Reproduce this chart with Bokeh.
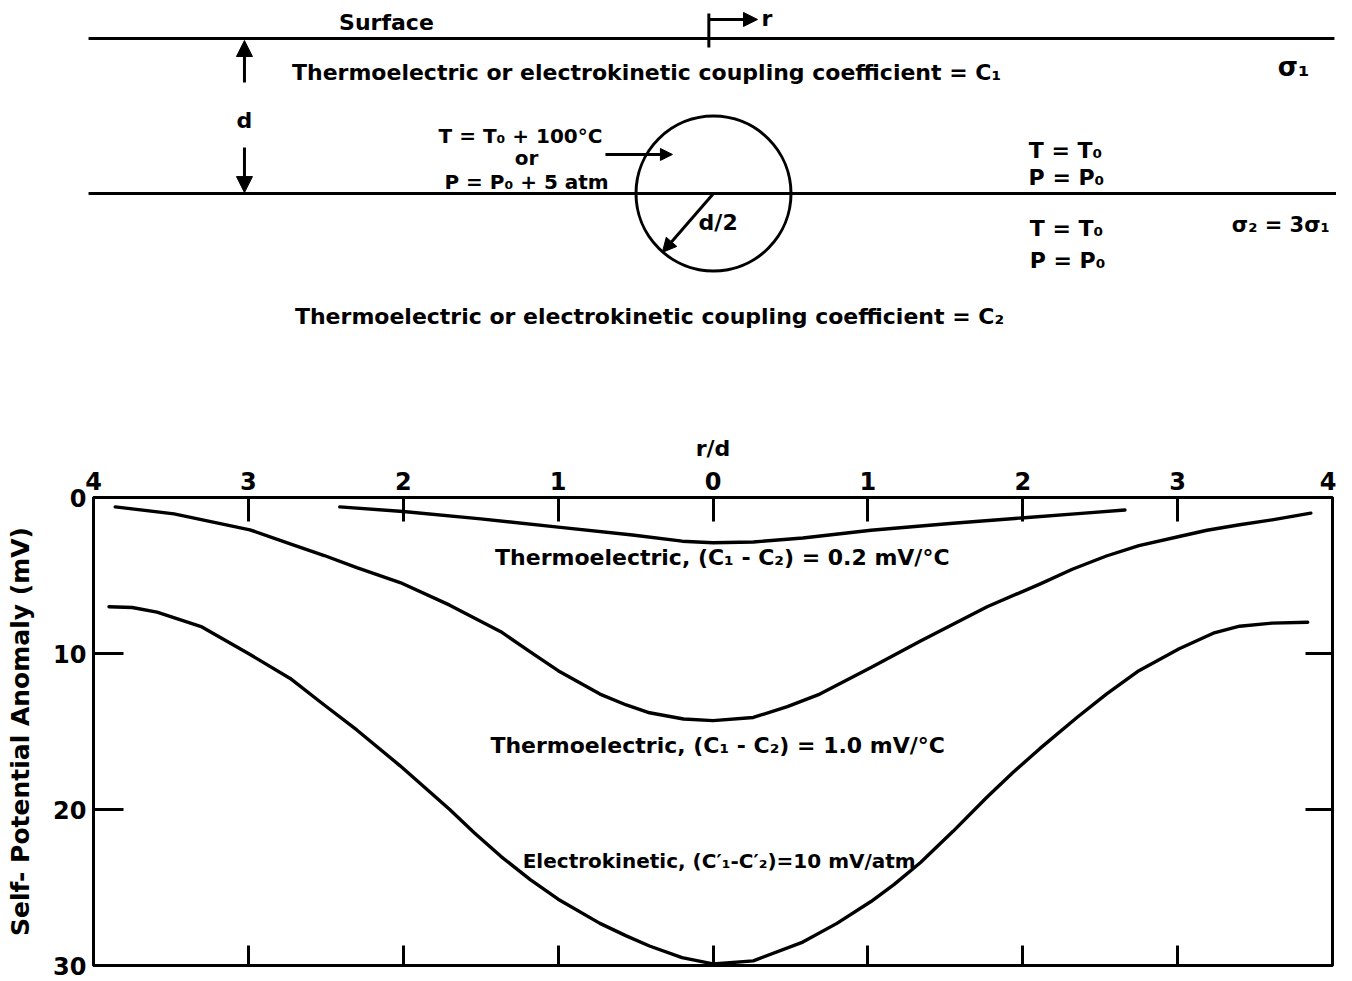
from bokeh.plotting import figure
from bokeh.models import Range1d, LinearAxis, FixedTicker, Label, Arrow, NormalHead
from bokeh.layouts import column
from bokeh.embed import file_html
from bokeh.resources import INLINE

# ---------------- data ----------------
# Thermoelectric, (C1 - C2) = 0.2 mV/degC
r_te02 = [-2.41, -2.0, -1.5, -1.0, -0.52, -0.2, 0.0, 0.26, 0.58, 1.02, 1.55, 2.01, 2.4, 2.66]
mv_te02 = [0.6, 0.9, 1.37, 1.9, 2.4, 2.8, 2.9, 2.85, 2.6, 2.1, 1.65, 1.3, 1.0, 0.8]

# Thermoelectric, (C1 - C2) = 1.0 mV/degC
r_te10 = [-3.86, -3.48, -2.99, -2.73, -2.51, -2.30, -2.02, -1.70, -1.37, -1.18, -1.0,
          -0.73, -0.56, -0.41, -0.19, 0.0, 0.26, 0.48, 0.69, 1.02, 1.34, 1.77, 2.11,
          2.32, 2.54, 2.75, 3.01, 3.19, 3.4, 3.61, 3.86]
mv_te10 = [0.6, 1.05, 2.07, 2.97, 3.72, 4.5, 5.45, 6.9, 8.6, 9.9, 11.1,
           12.6, 13.3, 13.8, 14.2, 14.3, 14.1, 13.4, 12.6, 10.9, 9.2, 7.0, 5.55,
           4.6, 3.75, 3.08, 2.5, 2.1, 1.75, 1.43, 1.0]

# Electrokinetic, (C1' - C2') = 10 mV/atm
r_ek = [-3.9, -3.75, -3.59, -3.3, -3.0, -2.73, -2.51, -2.30, -2.02, -1.70, -1.54, -1.37,
        -1.18, -1.0, -0.73, -0.56, -0.41, -0.2, 0.0, 0.26, 0.58, 0.8, 1.02, 1.17, 1.34,
        1.55, 1.77, 1.94, 2.11, 2.35, 2.54, 2.75, 3.01, 3.23, 3.4, 3.61, 3.84]
mv_ek = [7.0, 7.05, 7.35, 8.3, 10.0, 11.6, 13.3, 14.9, 17.2, 20.0, 21.5, 23.0,
         24.5, 25.75, 27.3, 28.1, 28.75, 29.5, 29.9, 29.7, 28.5, 27.3, 25.9, 24.8, 23.4,
         21.4, 19.2, 17.6, 16.1, 14.1, 12.6, 11.1, 9.7, 8.7, 8.25, 8.05, 8.0]

curve_labels = ["Thermoelectric, (C\u2081 - C\u2082) = 0.2 mV/\u00b0C",
                "Thermoelectric, (C\u2081 - C\u2082) = 1.0 mV/\u00b0C",
                "Electrokinetic, (C\u2032\u2081-C\u2032\u2082)=10 mV/atm"]

x_ticks = [-4, -3, -2, -1, 0, 1, 2, 3, 4]
x_tick_labels = ["4", "3", "2", "1", "0", "1", "2", "3", "4"]
x_inner_ticks = [-3, -2, -1, 0, 1, 2, 3]
y_ticks = [0, 10, 20, 30]
y_side_ticks = [10, 20]

# schematic geometry, in units of the depth d
layer_depths = [0.0, 1.0]          # surface, interface
sphere_depth = 1.0
sphere_radius = 0.5                # d/2

FONT = "DejaVu Sans"
FS = "22px"

# ---------------- schematic (top) ----------------
top = figure(width=1336, height=400,
             x_range=Range1d(-4.6, 4.0194), y_range=Range1d(2.3355, -0.2452),
             x_axis_location=None, y_axis_location=None,
             toolbar_location=None, output_backend="svg",
             min_border=0, outline_line_color=None, frame_align=False)
for g in top.grid:
    g.visible = False

top.segment(x0=[-4.032, -4.032], y0=layer_depths, x1=[4.006, 4.019], y1=layer_depths,
            line_color="black", line_width=3)
top.circle(x=[0.0], y=[sphere_depth], radius=sphere_radius,
           fill_color=None, line_color="black", line_width=3)

# r marker at surface
top.segment(x0=[-0.03], y0=[-0.161], x1=[-0.03], y1=[0.058], line_color="black", line_width=3)


def arrow(xs, ys, xe, ye, size=14):
    top.add_layout(Arrow(end=NormalHead(size=size, fill_color="black", line_color="black"),
                         x_start=xs, y_start=ys, x_end=xe, y_end=ye,
                         line_color="black", line_width=3))


arrow(-0.03, -0.123, 0.284, -0.123, 14)
arrow(-3.026, 0.284, -3.026, 0.013, 16)
arrow(-3.026, 0.703, -3.026, 0.994, 16)
arrow(-0.697, 0.748, -0.265, 0.748, 12)
arrow(0.0, 1.0, -0.33, 1.38, 14)


def lab(fig, x, y, text, size=FS, align="center"):
    fig.add_layout(Label(x=x, y=y, text=text, text_align=align, text_baseline="middle",
                         text_font=FONT, text_font_size=size, text_font_style="bold",
                         text_color="black"))


lab(top, -2.11, -0.103, "Surface")
lab(top, 0.31, -0.13, "r", align="left")
lab(top, -3.026, 0.529, "d")
lab(top, -0.432, 0.219, "Thermoelectric or electrokinetic coupling coefficient = C\u2081")
lab(top, 3.742, 0.181, "\u03c3\u2081", size="26px")
lab(top, -1.245, 0.632, "T = T\u2080 + 100\u00b0C", size="20px")
lab(top, -1.206, 0.768, "or", size="20px")
lab(top, -1.206, 0.929, "P = P\u2080 + 5 atm", size="20px")
lab(top, 0.03, 1.187, "d/2")
lab(top, 2.271, 0.723, "T = T\u2080")
lab(top, 2.277, 0.897, "P = P\u2080")
lab(top, 2.277, 1.226, "T = T\u2080")
lab(top, 2.284, 1.432, "P = P\u2080")
lab(top, 3.66, 1.206, "\u03c3\u2082 = 3\u03c3\u2081", size="21px")
lab(top, -0.413, 1.794, "Thermoelectric or electrokinetic coupling coefficient = C\u2082")

# ---------------- chart (bottom) ----------------
p = figure(width=1336, height=581,
           x_range=Range1d(-4, 4), y_range=Range1d(30, 0),
           x_axis_location="above", y_axis_location="left",
           toolbar_location=None, output_backend="svg",
           min_border_left=93, min_border_right=4, min_border_top=97, min_border_bottom=16,
           outline_line_color="black", outline_line_width=3, frame_align=False)
p.grid.visible = False

xa = p.xaxis[0]
xa.ticker = FixedTicker(ticks=x_ticks, minor_ticks=[])
xa.major_label_overrides = {t: s for t, s in zip(x_ticks, x_tick_labels)}
xa.axis_label = "r/d"

ya = p.yaxis[0]
ya.ticker = FixedTicker(ticks=y_ticks, minor_ticks=[])
ya.axis_label = "Self- Potential Anomaly (mV)"

xb = LinearAxis(ticker=FixedTicker(ticks=x_inner_ticks, minor_ticks=[]))
yr = LinearAxis(ticker=FixedTicker(ticks=y_side_ticks, minor_ticks=[]))
p.add_layout(xb, "below")
p.add_layout(yr, "right")

for ax in (xa, ya, xb, yr):
    ax.axis_line_color = "black"
    ax.axis_line_width = 3
    ax.major_tick_line_color = "black"
    ax.major_tick_line_width = 3
    ax.major_tick_out = 0
    ax.minor_tick_line_color = None
    ax.major_label_text_font = FONT
    ax.major_label_text_font_size = "24px"
    ax.major_label_text_font_style = "bold"
    ax.major_label_text_color = "black"
    ax.axis_label_text_font = FONT
    ax.axis_label_text_font_style = "bold"
    ax.axis_label_text_color = "black"

xa.major_tick_in = 24
xa.major_label_standoff = 8
xa.axis_label_text_font_size = "22px"
xa.axis_label_standoff = 8

ya.major_tick_in = 30
ya.major_label_standoff = 7
ya.axis_label_text_font_size = "25px"
ya.axis_label_standoff = 15

xb.major_tick_in = 20
xb.major_label_text_font_size = "0px"
xb.major_label_text_color = None
xb.major_label_standoff = 0

yr.major_tick_in = 27
yr.major_label_text_font_size = "0px"
yr.major_label_text_color = None
yr.major_label_standoff = 0

for rr, vv in ((r_te02, mv_te02), (r_te10, mv_te10), (r_ek, mv_ek)):
    p.line(rr, vv, line_color="black", line_width=3.4, line_join="round", line_cap="round")

lab(p, 0.06, 3.85, curve_labels[0])
lab(p, 0.03, 15.9, curve_labels[1])
lab(p, 0.04, 23.3, curve_labels[2], size="20px")

layout = column(top, p, spacing=0)
open("out.html", "w").write(file_html(layout, INLINE))
